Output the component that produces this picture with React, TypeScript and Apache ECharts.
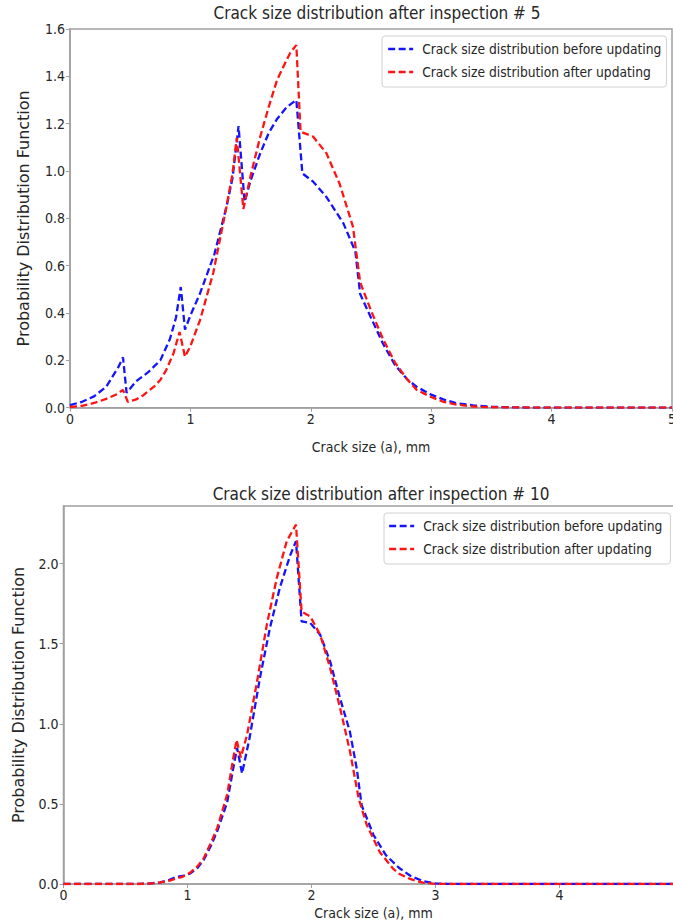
import React, { useEffect, useRef } from "react";
import * as echarts from "echarts";

// ---------- Data ----------
const xTicks5 = [0, 1, 2, 3, 4, 5];
const xTicks10 = [0, 1, 2, 3, 4];

// Inspection #5 - before updating
const xBefore5 = [0, 0.1, 0.2, 0.3, 0.4, 0.44, 0.47, 0.55, 0.65, 0.75, 0.83, 0.88, 0.92, 0.955, 1.0, 1.08, 1.2, 1.3, 1.35, 1.4, 1.45, 1.5, 1.58, 1.65, 1.72, 1.8, 1.88, 1.93, 2.02, 2.13, 2.27, 2.37, 2.41, 2.5, 2.6, 2.7, 2.8, 2.88, 3.0, 3.1, 3.2, 3.35, 3.5, 3.7, 4.0, 5.0];
const yBefore5 = [0.011, 0.025, 0.048, 0.088, 0.17, 0.213, 0.063, 0.112, 0.15, 0.2, 0.29, 0.38, 0.51, 0.33, 0.39, 0.483, 0.65, 0.85, 0.97, 1.19, 0.87, 0.96, 1.075, 1.16, 1.22, 1.27, 1.3, 0.99, 0.955, 0.89, 0.78, 0.66, 0.48, 0.38, 0.27, 0.18, 0.12, 0.088, 0.055, 0.035, 0.02, 0.01, 0.004, 0.001, 0, 0];

// Inspection #5 - after updating
const xAfter5 = [0, 0.1, 0.2, 0.3, 0.38, 0.44, 0.48, 0.55, 0.61, 0.7, 0.75, 0.8, 0.86, 0.91, 0.955, 1.0, 1.08, 1.19, 1.3, 1.35, 1.385, 1.44, 1.5, 1.58, 1.65, 1.72, 1.8, 1.83, 1.88, 1.915, 2.02, 2.13, 2.24, 2.35, 2.41, 2.5, 2.6, 2.7, 2.8, 2.88, 3.0, 3.1, 3.2, 3.35, 3.5, 4.0, 5.0];
const yAfter5 = [0.003, 0.008, 0.02, 0.037, 0.055, 0.075, 0.025, 0.035, 0.053, 0.09, 0.117, 0.16, 0.23, 0.32, 0.215, 0.26, 0.37, 0.57, 0.85, 0.99, 1.14, 0.84, 0.98, 1.145, 1.27, 1.385, 1.47, 1.5, 1.532, 1.166, 1.145, 1.075, 0.945, 0.765, 0.53, 0.41, 0.29, 0.19, 0.12, 0.075, 0.045, 0.025, 0.014, 0.005, 0.002, 0, 0];

// Inspection #10 - before updating
const xBefore10 = [0, 0.6, 0.7, 0.78, 0.85, 0.91, 0.96, 1.02, 1.08, 1.13, 1.19, 1.24, 1.32, 1.38, 1.4, 1.44, 1.5, 1.585, 1.665, 1.745, 1.827, 1.875, 1.92, 1.99, 2.07, 2.15, 2.23, 2.31, 2.365, 2.405, 2.5, 2.6, 2.71, 2.8, 2.9, 3.0, 3.1, 3.2, 5.0];
const yBefore10 = [0, 0, 0.004, 0.01, 0.025, 0.045, 0.05, 0.065, 0.1, 0.15, 0.24, 0.33, 0.51, 0.77, 0.85, 0.69, 0.91, 1.29, 1.6, 1.85, 2.05, 2.14, 1.64, 1.63, 1.556, 1.39, 1.16, 0.95, 0.72, 0.49, 0.306, 0.18, 0.098, 0.05, 0.018, 0.004, 0.001, 0, 0];

// Inspection #10 - after updating
const xAfter10 = [0, 0.6, 0.7, 0.78, 0.85, 0.91, 0.96, 1.02, 1.08, 1.13, 1.19, 1.24, 1.32, 1.37, 1.396, 1.43, 1.48, 1.56, 1.64, 1.72, 1.8, 1.875, 1.92, 1.99, 2.07, 2.15, 2.23, 2.31, 2.38, 2.445, 2.55, 2.66, 2.71, 2.8, 2.9, 3.0, 3.1, 5.0];
const yAfter10 = [0, 0, 0.003, 0.01, 0.02, 0.035, 0.045, 0.07, 0.11, 0.16, 0.26, 0.35, 0.56, 0.79, 0.9, 0.79, 0.93, 1.26, 1.62, 1.91, 2.14, 2.244, 1.7, 1.67, 1.556, 1.35, 1.1, 0.83, 0.535, 0.37, 0.2, 0.094, 0.062, 0.03, 0.008, 0.001, 0, 0];

const yTicks10 = [0, 0.5, 1.0, 1.5, 2.0];

const titles = ["Crack size distribution after inspection # 5", "Crack size distribution after inspection # 10"];
const seriesNames = ["Crack size distribution before updating", "Crack size distribution after updating"];
const xName = "Crack size (a), mm";
const yName = "Probability Distribution Function";

// ---------- Styling ----------
const COND = "'DejaVu Sans Condensed', 'DejaVu Sans', sans-serif";
const REG = "'DejaVu Sans', sans-serif";
const TXT = "#262626";
const SPINE = "#a0a0a0";
const BLUE = "#1414ff";
const RED = "#ff1414";

const pairs = (xs: number[], ys: number[]) => xs.map((x, i) => [x, ys[i]]);

export default function App() {
  const ref = useRef<HTMLDivElement>(null);

  useEffect(() => {
    if (!ref.current) return;
    const chart = echarts.init(ref.current, undefined, { renderer: "svg" });

    const grids = [
      { left: 70, top: 29, width: 602, height: 378.7 },
      { left: 63.5, top: 506, width: 620, height: 378 },
    ];
    const tickSets = [xTicks5, xTicks10];

    const xAxis = grids.map((_, i) => ({
      type: "value",
      gridIndex: i,
      min: 0,
      max: 5,
      interval: 1,
      name: xName,
      nameLocation: "middle",
      nameGap: i === 0 ? 32 : 22,
      nameTextStyle: { fontFamily: COND, fontSize: 14, color: TXT },
      axisLine: { show: true, lineStyle: { color: SPINE, width: 1.5 } },
      axisTick: { show: true, length: 4, inside: false, lineStyle: { color: SPINE, width: 1 } },
      axisLabel: {
        margin: 4,
        fontFamily: COND,
        fontSize: 14,
        color: TXT,
        formatter: (v: number) => (tickSets[i].includes(v) ? String(v) : ""),
      },
      splitLine: { show: false },
    }));

    const yAxis = [
      {
        type: "value",
        gridIndex: 0,
        min: 0,
        max: 1.6,
        interval: 0.2,
        name: yName,
        nameLocation: "middle",
        nameRotate: 90,
        nameGap: 39,
        nameTextStyle: { fontFamily: REG, fontSize: 16, color: TXT },
        axisLine: { show: true, lineStyle: { color: SPINE, width: 1.5 } },
        axisTick: { show: true, length: 4, lineStyle: { color: SPINE, width: 1 } },
        axisLabel: {
          margin: 5,
          fontFamily: COND,
          fontSize: 14,
          color: TXT,
          formatter: (v: number) => v.toFixed(1),
        },
        splitLine: { show: false },
      },
      {
        type: "value",
        gridIndex: 1,
        min: 0,
        max: 2.36,
        interval: 0.5,
        name: yName,
        nameLocation: "middle",
        nameRotate: 90,
        nameGap: 37,
        nameTextStyle: { fontFamily: REG, fontSize: 16, color: TXT },
        axisLine: { show: true, lineStyle: { color: SPINE, width: 1.5 } },
        axisTick: { show: true, length: 4, lineStyle: { color: SPINE, width: 1 }, customValues: yTicks10 },
        axisLabel: {
          margin: 5,
          fontFamily: COND,
          fontSize: 14,
          color: TXT,
          customValues: yTicks10,
          formatter: (v: number) => v.toFixed(1),
        },
        splitLine: { show: false },
      },
    ];

    const lineBase = (name: string, color: string, data: number[][], idx: number) => ({
      type: "line",
      name,
      xAxisIndex: idx,
      yAxisIndex: idx,
      data,
      symbol: "none",
      showSymbol: false,
      smooth: false,
      color,
      lineStyle: { color, width: 2.3, type: [7, 3.5] },
      emphasis: { disabled: true },
      z: 3,
    });

    const legendBase = {
      orient: "vertical",
      itemWidth: 25,
      itemHeight: 14,
      itemGap: 9,
      backgroundColor: "rgba(255,255,255,0.9)",
      borderColor: "#d0d0d0",
      borderWidth: 1,
      borderRadius: 3,
      itemStyle: { opacity: 0, borderWidth: 0 },
      lineStyle: { width: 2.3 },
      textStyle: { fontFamily: COND, fontSize: 13.7, color: TXT, padding: [0, 0, 0, 4] },
      selectedMode: false,
      data: seriesNames,
    };

    chart.setOption({
      animation: false,
      backgroundColor: "#ffffff",
      title: [
        {
          text: titles[0],
          left: 377,
          top: 4,
          textAlign: "center",
          padding: 0,
          textStyle: { fontFamily: COND, fontSize: 17, fontWeight: "normal", color: TXT },
        },
        {
          text: titles[1],
          left: 381,
          top: 485,
          textAlign: "center",
          padding: 0,
          textStyle: { fontFamily: COND, fontSize: 17, fontWeight: "normal", color: TXT },
        },
      ],
      grid: grids.map((g) => ({
        ...g,
        show: true,
        borderColor: SPINE,
        borderWidth: 1.5,
        backgroundColor: "transparent",
        containLabel: false,
        outerBoundsMode: "none",
      })),
      legend: [
        { ...legendBase, left: 382, top: 36, padding: [6, 5, 8, 5] },
        { ...legendBase, left: 384, top: 513, padding: [6, 8, 8, 4] },
      ],
      xAxis,
      yAxis,
      series: [
        lineBase(seriesNames[0], BLUE, pairs(xBefore5, yBefore5), 0),
        lineBase(seriesNames[1], RED, pairs(xAfter5, yAfter5), 0),
        lineBase(seriesNames[0], BLUE, pairs(xBefore10, yBefore10), 1),
        lineBase(seriesNames[1], RED, pairs(xAfter10, yAfter10), 1),
      ],
    });

    return () => chart.dispose();
  }, []);

  return (
    <div
      ref={ref}
      style={{ position: "absolute", left: 0, top: 0, width: 673, height: 924, background: "#fff" }}
    />
  );
}
